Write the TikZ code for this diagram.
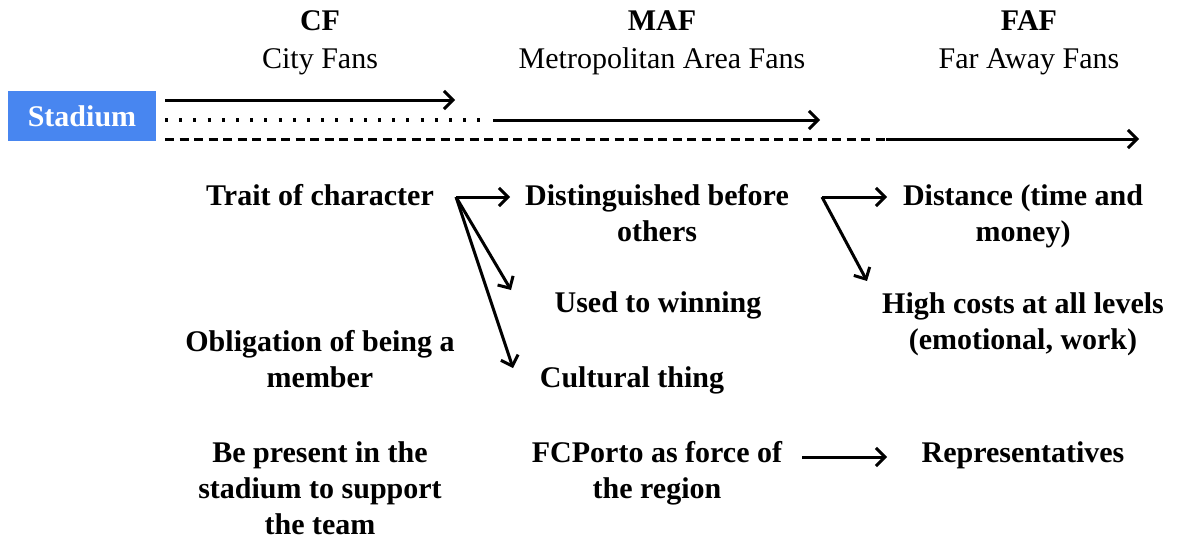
\documentclass[tikz,border=0pt]{standalone}
\usepackage{fontspec}
\setmainfont{Liberation Serif}
\usetikzlibrary{arrows.meta}
\definecolor{stadiumblue}{RGB}{72,134,240}
\begin{document}
\begin{tikzpicture}[x=1pt,y=-1pt,
  lbl/.style={font=\fontsize{30}{36}\selectfont\bfseries, align=center, anchor=base, inner sep=0pt},
  head/.style={font=\fontsize{30}{36}\selectfont\bfseries, anchor=base, inner sep=0pt},
  sub/.style={font=\fontsize{30}{36}\selectfont, anchor=base, inner sep=0pt},
  conn/.style={line width=3pt, -{Straight Barb[length=9pt,width=18pt]}},
  dots/.style={line width=3.2pt, dash pattern=on 3pt off 11.2pt},
  dashes/.style={line width=3pt, dash pattern=on 9pt off 5.5pt}]
\useasboundingbox (0,0) rectangle (1177,543);

% column headings
\node[head] (cf)   at (320,31) {CF};
\node[sub]  (cfs)  at (320,68) {City Fans};
\node[head] (maf)  at (662,31) {MAF};
\node[sub]  (mafs) at (662,68) {Metropolitan Area Fans};
\node[head] (faf)  at (1029,31) {FAF};
\node[sub]  (fafs) at (1029,68) {Far Away Fans};

% stadium box
\node[fill=stadiumblue, minimum width=148pt, minimum height=50pt, inner sep=0pt,
      text=white, font=\fontsize{30}{36}\selectfont\bfseries] (stadium) at (82,116) {Stadium};

% three tracks from the stadium
\coordinate (t1s) at (165,100); \coordinate (t1e) at (455,100);
\coordinate (t2s) at (165,120); \coordinate (t2m) at (484,120);
\coordinate (t2n) at (493,120); \coordinate (t2e) at (820,120);
\coordinate (t3s) at (165,139); \coordinate (t3m) at (886,139);
\coordinate (t3e) at (1139,139);
\draw[conn] (t1s) -- (t1e);
\draw[dots] (t2s) -- (t2m);
\draw[conn] (t2n) -- (t2e);
\draw[dashes] (t3s) -- (t3m);
\draw[conn] (t3m) -- (t3e);

% text items (base anchor sits on the last line)
\node[lbl] (trait) at (320,205) {Trait of character};
\node[lbl] (dist)  at (657,241) {Distinguished before\\others};
\node[lbl] (far)   at (1023,241) {Distance (time and\\money)};
\node[lbl] (used)  at (658,312) {Used to winning};
\node[lbl] (high)  at (1023,349) {High costs at all levels\\(emotional, work)};
\node[lbl] (oblig) at (320,387) {Obligation of being a\\member};
\node[lbl] (cult)  at (632,387) {Cultural thing};
\node[lbl] (pres)  at (320,534) {Be present in the\\stadium to support\\the team};
\node[lbl] (force) at (657,498) {FCPorto as force of\\the region};
\node[lbl] (repr)  at (1023,462) {Representatives};

% branching connectors
\coordinate (b1) at (456,197);
\coordinate (b1a) at (510,197);
\coordinate (b1b) at (511,290);
\coordinate (b1c) at (513,368);
\draw[conn] (b1) -- (b1a);
\draw[conn] (b1) -- (b1b);
\draw[conn] (b1) -- (b1c);

\coordinate (b2) at (822,197);
\coordinate (b2a) at (887,197);
\coordinate (b2b) at (867,281);
\draw[conn] (b2) -- (b2a);
\draw[conn] (b2) -- (b2b);

\coordinate (f1) at (802,457);
\coordinate (f2) at (887,457);
\draw[conn] (f1) -- (f2);
\end{tikzpicture}
\end{document}
